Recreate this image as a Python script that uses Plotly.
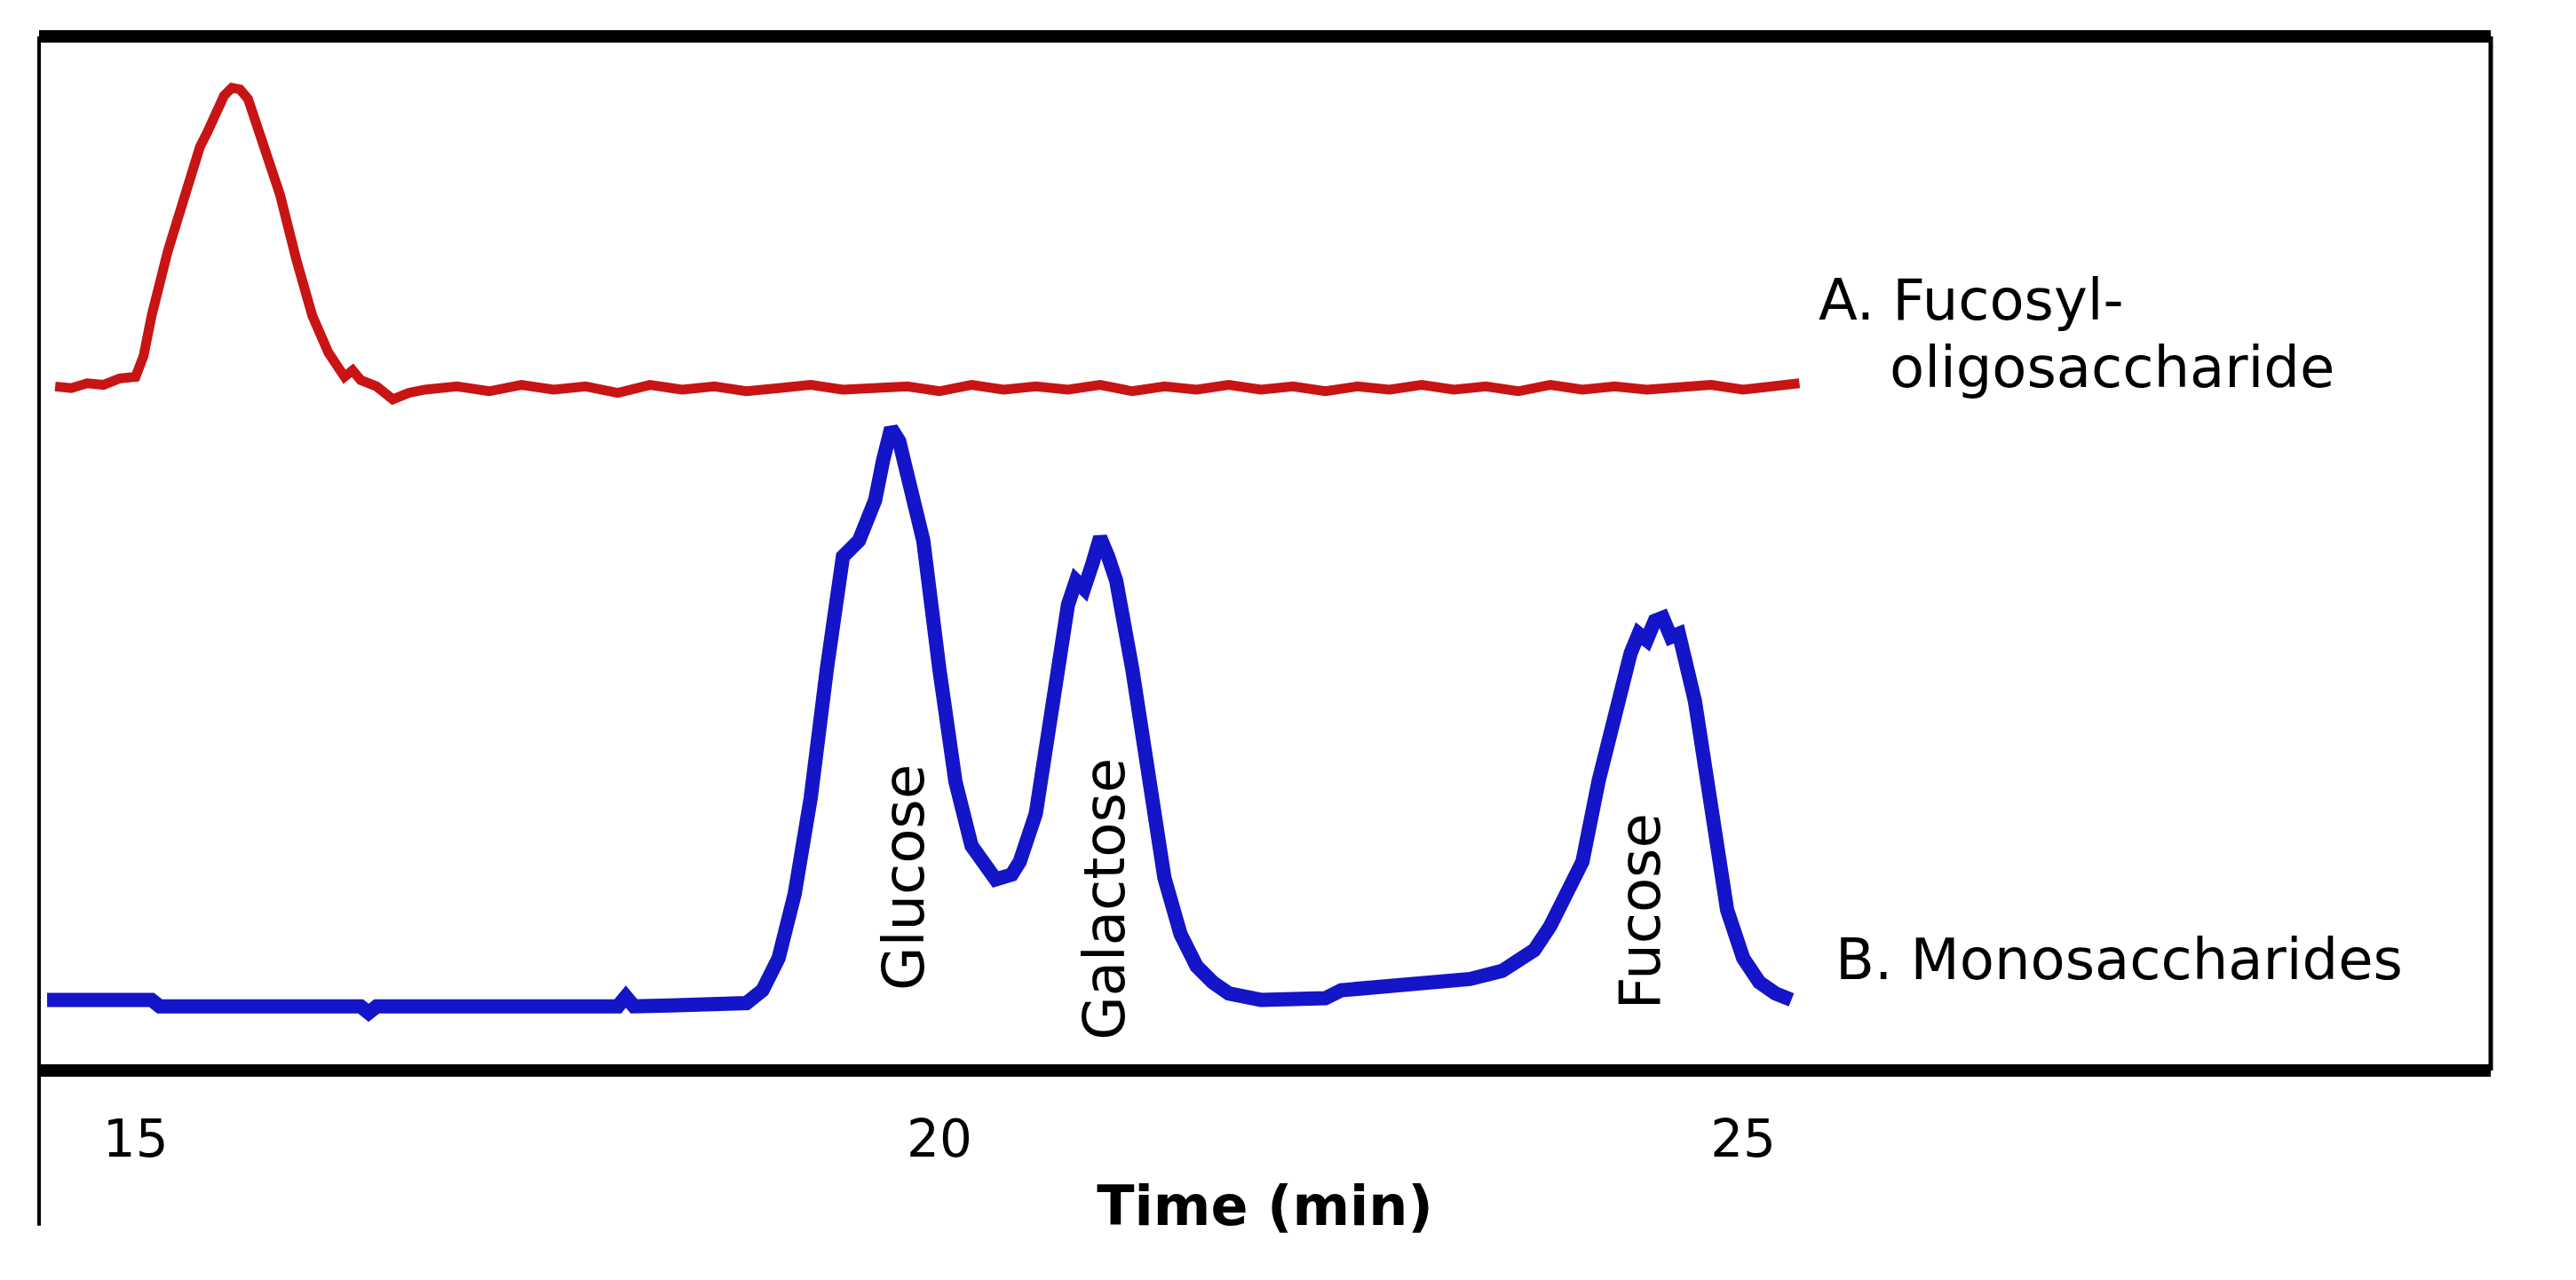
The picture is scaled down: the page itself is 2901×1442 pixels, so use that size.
import plotly.graph_objects as go

# trace A: fucosyl-oligosaccharide (red)
time_a = [14.5, 14.6, 14.7, 14.8, 14.9, 15.0, 15.05, 15.1, 15.2, 15.3, 15.4, 15.45, 15.5, 15.55, 15.6, 15.65, 15.7,
          15.75, 15.8, 15.9, 16.0, 16.1, 16.2, 16.25, 16.3, 16.35, 16.4, 16.5, 16.6, 16.7, 16.8,
          17.0, 17.2, 17.4, 17.6, 17.8, 18.0, 18.2, 18.4, 18.6, 18.8, 19.0, 19.2, 19.4, 19.6, 19.8,
          20.0, 20.2, 20.4, 20.6, 20.8, 21.0, 21.2, 21.4, 21.6, 21.8, 22.0, 22.2, 22.4, 22.6, 22.8,
          23.0, 23.2, 23.4, 23.6, 23.8, 24.0, 24.2, 24.4, 24.6, 24.8, 25.0, 25.2, 25.35]
signal_a = [426, 425, 428, 427, 431, 432, 445, 470, 510, 545, 575, 585, 598, 607, 612, 611, 605,
            590, 575, 545, 505, 470, 447, 440, 432, 436, 430, 426, 418, 422, 424,
            426, 423, 427, 424, 426, 422, 427, 424, 426, 423, 425, 427, 424, 425, 426,
            423, 427, 424, 426, 424, 427, 423, 426, 424, 427, 424, 426, 423, 426, 424,
            427, 424, 426, 423, 427, 424, 426, 424, 425, 427, 424, 426, 428]

# trace B: monosaccharides (blue)
time_b = [14.45, 14.8, 15.1, 15.15, 15.5, 16.0, 16.4, 16.45, 16.5, 17.0, 17.5, 18.0, 18.05, 18.1, 18.5, 18.8,
          18.9, 19.0, 19.1, 19.2, 19.3, 19.4, 19.5, 19.55, 19.6, 19.65, 19.7, 19.75, 19.8, 19.85, 19.9,
          20.0, 20.1, 20.2, 20.3, 20.35, 20.45, 20.5, 20.6, 20.7, 20.8, 20.85, 20.9, 20.95, 21.0, 21.05,
          21.1, 21.2, 21.3, 21.4, 21.5, 21.6, 21.7, 21.8, 22.0, 22.2, 22.4, 22.5, 22.8, 23.0, 23.3,
          23.5, 23.7, 23.8, 24.0, 24.1, 24.2, 24.3, 24.35, 24.4, 24.45, 24.5, 24.55, 24.6, 24.7, 24.8,
          24.9, 25.0, 25.1, 25.2, 25.3]
signal_b = [44, 44, 44, 40, 40, 40, 40, 36, 40, 40, 40, 40, 46, 40, 41, 42,
            50, 70, 110, 170, 250, 320, 330, 345, 355, 380, 400, 392, 370, 355, 330,
            250, 180, 140, 125, 119, 122, 130, 160, 230, 290, 305, 300, 315, 332, 320,
            305, 250, 180, 120, 85, 65, 55, 48, 44, 44, 45, 50, 53, 56, 57,
            62, 75, 90, 130, 180, 225, 260, 272, 268, 280, 282, 270, 272, 230, 160,
            100, 70, 55, 48, 44]

tick_vals = [15, 20, 25]
tick_text = ["15", "20", "25"]

fig = go.Figure()
fig.add_trace(go.Scatter(x=time_a, y=signal_a, mode="lines", line=dict(color="#c81414", width=11)))
fig.add_trace(go.Scatter(x=time_b, y=signal_b, mode="lines", line=dict(color="#1414c8", width=16)))

font = "DejaVu Sans"
ann = dict(showarrow=False, font=dict(family=font, size=64, color="black"))
fig.add_annotation(x=25.46, y=480, text="A. Fucosyl-", xanchor="left", **ann)
fig.add_annotation(x=25.9, y=438, text="oligosaccharide", xanchor="left", **ann)
fig.add_annotation(x=25.56, y=69, text="B. Monosaccharides", xanchor="left", **ann)
for t, s, name in [(19.78, 120, "Glucose"), (21.03, 107, "Galactose"), (24.36, 99, "Fucose")]:
    fig.add_annotation(x=t, y=s, text=name, textangle=-90, **ann)

# frame: thick top/bottom, thin sides, left line runs on below the box
fig.add_shape(type="line", xref="paper", yref="paper", x0=0, x1=1, y0=1, y1=1, line=dict(color="black", width=14))
fig.add_shape(type="line", xref="paper", yref="paper", x0=0, x1=1, y0=0, y1=0, line=dict(color="black", width=14))
fig.add_shape(type="line", xref="paper", yref="paper", x0=1, x1=1, y0=0, y1=1, line=dict(color="black", width=5))
fig.add_shape(type="line", xref="paper", yref="paper", x0=0, x1=0, y0=-0.15, y1=1, line=dict(color="black", width=4))

fig.update_layout(
    width=2901, height=1442,
    margin=dict(l=36, r=104, t=33, b=244),
    plot_bgcolor="white", paper_bgcolor="white",
    showlegend=False,
    font=dict(family=font, color="black"),
    xaxis=dict(range=[14.4, 29.65], tickvals=tick_vals, ticktext=tick_text, showgrid=False, zeroline=False,
               ticks="", tickfont=dict(size=58), ticklabelstandoff=38,
               title=dict(text="<b>Time (min)</b>", font=dict(size=62), standoff=20)),
    yaxis=dict(range=[0, 644], visible=False, showgrid=False),
)

fig.write_html("out.html")
